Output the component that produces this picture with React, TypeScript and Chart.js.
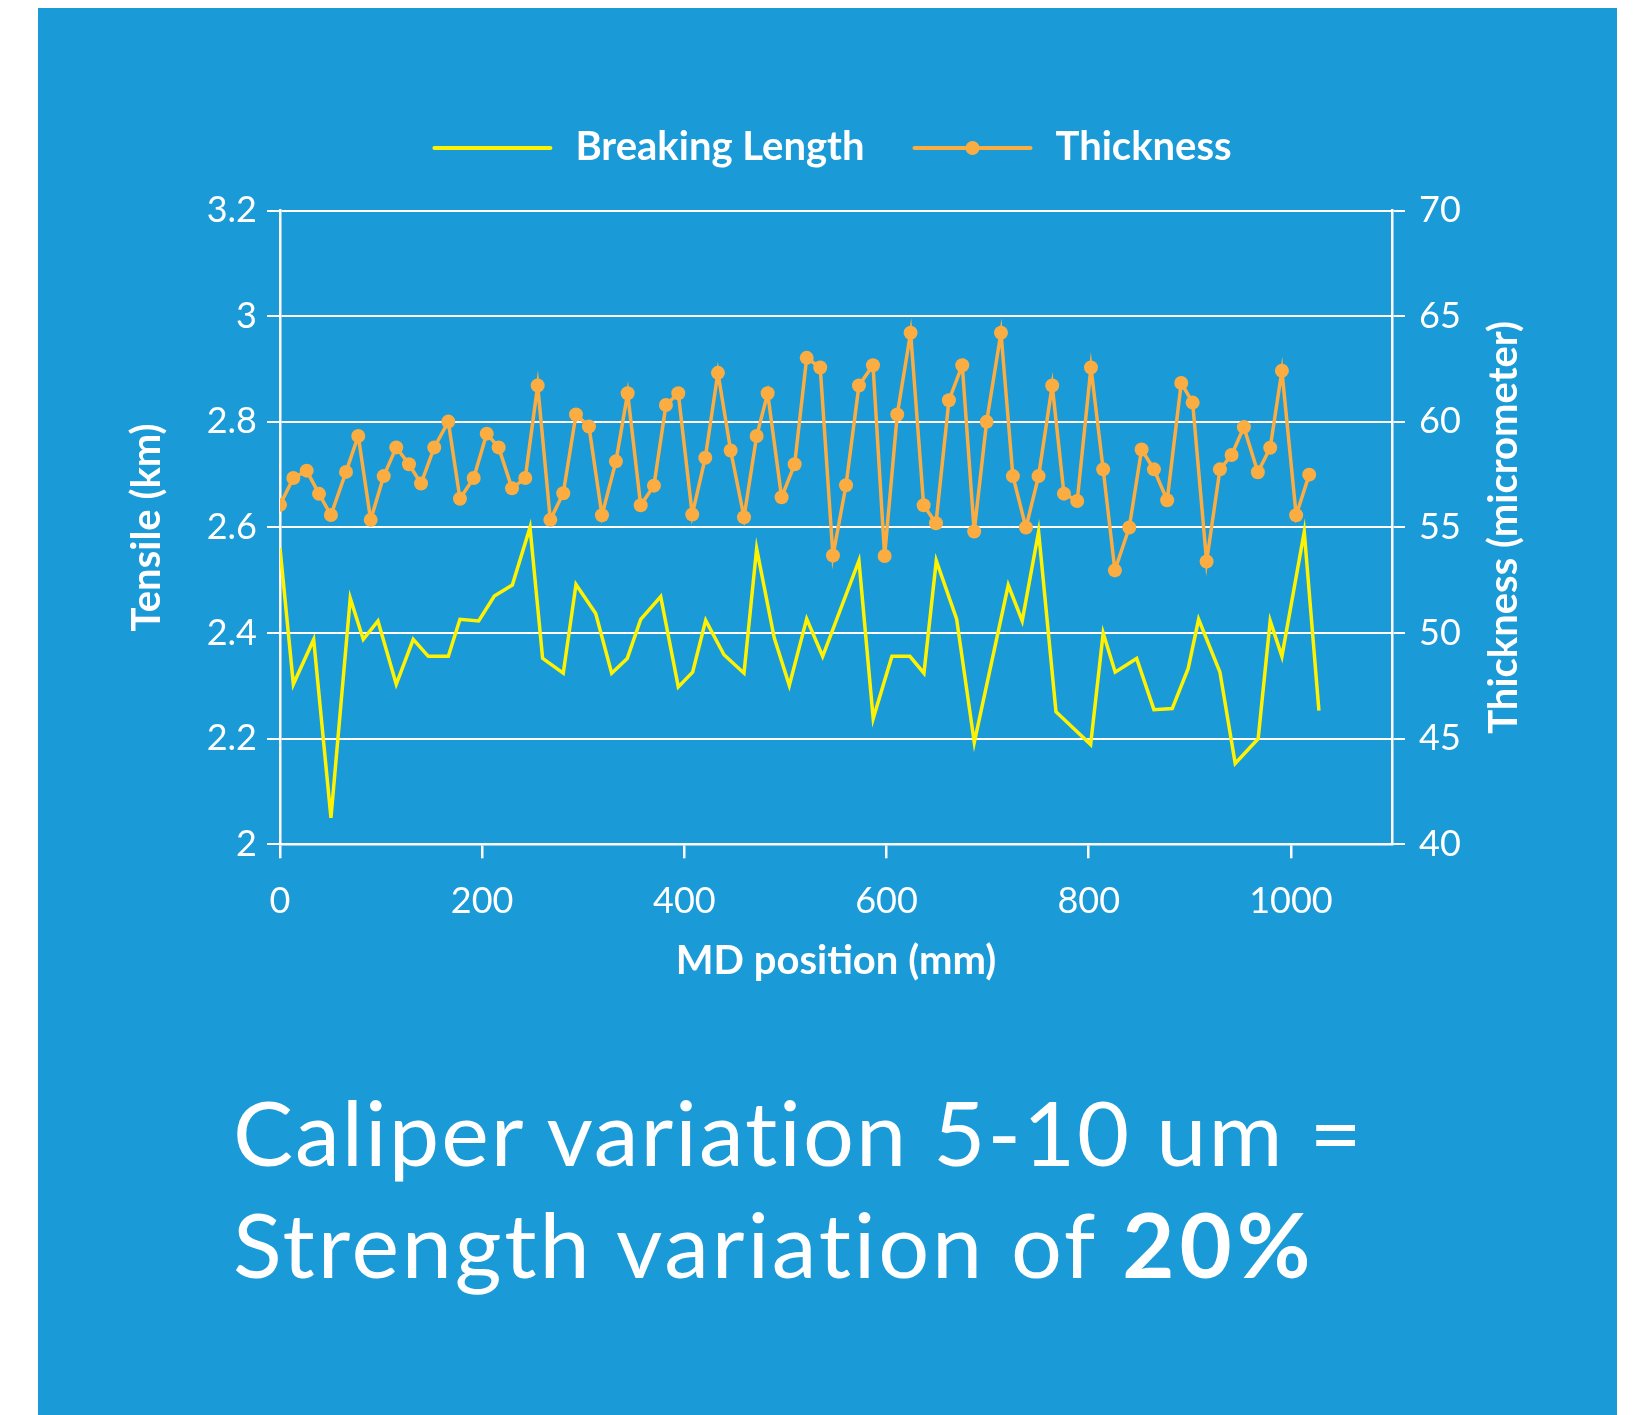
import React, { useEffect, useRef } from "react";
import { Chart, registerables } from "chart.js";

Chart.register(...registerables);

// ---------- data ----------
const breakingX = [
  0, 13.2, 33.3, 50.4, 69.5, 82.4, 96.9, 115.0, 131.8, 146.7,
  166.5, 178.0, 196.5, 212.0, 229.8, 247.3, 259.8, 280.2, 292.8, 312.3,
  328.1, 343.5, 356.8, 376.6, 394.0, 408.2, 421.1, 439.2, 459.0, 471.5,
  488.9, 503.8, 521.0, 536.8, 572.7, 586.8, 605.3, 623.1, 637.0, 649.2,
  669.3, 686.8, 720.4, 734.2, 750.4, 767.6, 801.9, 814.3, 826.2, 847.4,
  864.5, 882.6, 898.4, 908.7, 929.8, 944.9, 967.6, 979.5, 991.1, 1013.2,
  1027.7,
];
const breakingLength = [
  2.561, 2.303, 2.388, 2.050, 2.466, 2.388, 2.423, 2.303, 2.388, 2.356,
  2.356, 2.426, 2.423, 2.470, 2.491, 2.600, 2.352, 2.324, 2.492, 2.437,
  2.324, 2.352, 2.426, 2.469, 2.298, 2.326, 2.424, 2.359, 2.324, 2.560,
  2.391, 2.301, 2.427, 2.356, 2.537, 2.238, 2.356, 2.356, 2.324, 2.537,
  2.427, 2.193, 2.491, 2.423, 2.592, 2.251, 2.189, 2.400, 2.326, 2.352,
  2.255, 2.257, 2.333, 2.426, 2.326, 2.153, 2.200, 2.423, 2.356, 2.592,
  2.253,
];
const thicknessX = [
  0, 13.2, 26.4, 38.6, 50.4, 65.3, 77.4, 89.7, 102.6, 115.0,
  127.6, 139.5, 152.6, 166.5, 178.0, 191.6, 204.5, 216.3, 229.5, 242.6,
  254.9, 267.4, 280.2, 292.8, 305.6, 318.5, 332.3, 343.9, 356.8, 369.9,
  381.8, 394.0, 407.8, 420.7, 433.2, 445.8, 459.0, 471.5, 482.4, 496.2,
  509.1, 521.0, 534.4, 547.0, 559.9, 572.7, 586.6, 598.1, 610.6, 623.8,
  636.7, 648.9, 661.7, 674.9, 686.7, 699.0, 713.2, 725.0, 737.9, 750.4,
  763.9, 775.5, 788.6, 802.2, 814.3, 825.9, 840.1, 852.3, 864.5, 877.6,
  891.5, 902.8, 916.6, 929.8, 941.3, 953.5, 967.3, 979.5, 991.1, 1005.2,
  1018.1,
];
const thickness = [
  56.07, 57.34, 57.69, 56.59, 55.59, 57.63, 59.33, 55.36, 57.43, 58.79,
  57.99, 57.08, 58.79, 60.01, 56.36, 57.34, 59.44, 58.79, 56.85, 57.34,
  61.72, 55.36, 56.62, 60.35, 59.78, 55.58, 58.13, 61.35, 56.05, 56.98,
  60.8, 61.35, 55.61, 58.3, 62.32, 58.64, 55.48, 59.33, 61.35, 56.43,
  57.99, 63.03, 62.57, 53.67, 57.0, 61.72, 62.68, 53.65, 60.35, 64.22,
  56.05, 55.2, 61.02, 62.68, 54.81, 60.0, 64.22, 57.43, 55.0, 57.43,
  61.72, 56.6, 56.25, 62.57, 57.75, 52.97, 55.0, 58.69, 57.75, 56.29,
  61.84, 60.91, 53.39, 57.75, 58.43, 59.75, 57.61, 58.77, 62.42, 55.58,
  57.5,
];
const seriesLabels = ["Breaking Length", "Thickness"];
const axisTitles = { x: "MD position (mm)", yLeft: "Tensile (km)", yRight: "Thickness (micrometer)" };
const headline1 = "Caliper variation 5-10 um =";
const headline2a = "Strength variation of ";
const headline2b = "20%";

// ---------- style ----------
const BLUE = "#1A9AD7";
const YELLOW = "#FFF200";
const ORANGE = "#FBAD42";
const WHITE = "#FFFFFF";
const FONT = "Lato, 'Open Sans', sans-serif";
const TITLE_SIZE = 40;

const CANVAS_W = 1579;
const CANVAS_H = 1000;

const overlayPlugin = {
  id: "overlayPlugin",
  afterDraw(chart: any) {
    const ctx = chart.ctx as CanvasRenderingContext2D;
    const area = chart.chartArea;
    ctx.save();
    // legend
    ctx.font = `bold ${TITLE_SIZE}px ${FONT}`;
    const lineW = 116;
    const gapText = 25;
    const gapItem = 50;
    const ds = chart.data.datasets;
    const widths = ds.map((d: any) => ctx.measureText(d.label).width);
    let total = 0;
    ds.forEach((_d: any, k: number) => {
      total += lineW + gapText + widths[k];
    });
    total += gapItem * (ds.length - 1);
    let x = (area.left + area.right) / 2 - total / 2 - 3;
    const ly = 140;
    ds.forEach((d: any, k: number) => {
      ctx.strokeStyle = d.borderColor;
      ctx.lineWidth = 4;
      ctx.lineCap = "round";
      ctx.beginPath();
      ctx.moveTo(x, ly);
      ctx.lineTo(x + lineW, ly);
      ctx.stroke();
      if (d.pointRadius > 0) {
        ctx.fillStyle = d.pointBackgroundColor;
        ctx.beginPath();
        ctx.arc(x + lineW / 2, ly, 7, 0, Math.PI * 2);
        ctx.fill();
      }
      ctx.fillStyle = WHITE;
      ctx.textAlign = "left";
      ctx.textBaseline = "alphabetic";
      ctx.fillText(d.label, x + lineW + gapText, ly + 12);
      x += lineW + gapText + widths[k] + gapItem;
    });
    // right axis title, reading bottom to top
    ctx.font = `bold ${TITLE_SIZE}px ${FONT}`;
    ctx.translate(1479, (area.top + area.bottom) / 2);
    ctx.rotate(-Math.PI / 2);
    ctx.textAlign = "center";
    ctx.textBaseline = "alphabetic";
    ctx.fillStyle = WHITE;
    ctx.fillText(axisTitles.yRight, 0, 0);
    ctx.restore();
  },
};

function ChartView() {
  const ref = useRef<HTMLCanvasElement | null>(null);
  useEffect(() => {
    if (!ref.current) return;
    Chart.defaults.font.family = FONT;
    Chart.defaults.color = WHITE;
    const chart = new Chart(ref.current, {
      type: "line",
      data: {
        datasets: [
          {
            label: seriesLabels[0],
            data: breakingX.map((x, i) => ({ x, y: breakingLength[i] })),
            borderColor: YELLOW,
            backgroundColor: YELLOW,
            borderWidth: 3.5,
            pointRadius: 0,
            pointHoverRadius: 0,
            tension: 0,
            yAxisID: "y",
          },
          {
            label: seriesLabels[1],
            data: thicknessX.map((x, i) => ({ x, y: thickness[i] })),
            borderColor: ORANGE,
            backgroundColor: ORANGE,
            pointBackgroundColor: ORANGE,
            pointBorderColor: ORANGE,
            borderWidth: 3.5,
            pointRadius: 7,
            pointBorderWidth: 0,
            tension: 0,
            yAxisID: "y2",
          },
        ],
      },
      options: {
        animation: false,
        responsive: false,
        events: [],
        layout: { padding: { top: 202.6, left: 0, right: 0, bottom: 0 } },
        plugins: {
          legend: { display: false },
          tooltip: { enabled: false },
        },
        scales: {
          x: {
            type: "linear",
            min: 0,
            max: 1100,
            afterFit: (s: any) => {
              s.height = 163.7;
            },
            border: { display: true, color: WHITE, width: 2.5 },
            grid: { drawOnChartArea: false, color: WHITE, lineWidth: 2.5, tickLength: 14 },
            ticks: {
              stepSize: 200,
              includeBounds: false,
              color: WHITE,
              padding: 21,
              font: { size: 36, family: FONT },
              maxRotation: 0,
              callback: (v: any) => String(Math.round(Number(v))),
            },
            title: {
              display: true,
              text: axisTitles.x,
              color: WHITE,
              font: { size: TITLE_SIZE, weight: "bold", family: FONT },
              padding: { top: 0, bottom: 23 },
            },
          },
          y: {
            type: "linear",
            position: "left",
            min: 2,
            max: 3.2,
            afterFit: (s: any) => {
              s.width = 242;
            },
            border: { display: true, color: WHITE, width: 2.5 },
            grid: { color: WHITE, lineWidth: 2, tickLength: 13 },
            ticks: {
              stepSize: 0.2,
              color: WHITE,
              padding: 10,
              font: { size: 36, family: FONT },
              callback: (v: any) => String(Math.round(Number(v) * 10) / 10),
            },
            title: {
              display: true,
              text: axisTitles.yLeft,
              color: WHITE,
              font: { size: TITLE_SIZE, weight: "bold", family: FONT },
              padding: { top: 85, bottom: 0 },
            },
          },
          y2: {
            type: "linear",
            position: "right",
            min: 40,
            max: 70,
            afterFit: (s: any) => {
              s.width = 225;
            },
            border: { display: true, color: WHITE, width: 2.5 },
            grid: { drawOnChartArea: false, color: WHITE, lineWidth: 2, tickLength: 13 },
            ticks: {
              stepSize: 5,
              color: WHITE,
              padding: 14,
              font: { size: 36, family: FONT },
            },
            title: { display: false },
          },
        },
      },
      plugins: [overlayPlugin],
    } as any);
    return () => chart.destroy();
  }, []);
  return (
    <canvas
      ref={ref}
      width={CANVAS_W}
      height={CANVAS_H}
      style={{ display: "block", width: CANVAS_W, height: CANVAS_H, position: "absolute", left: 0, top: 0 }}
    />
  );
}

export default function App() {
  useEffect(() => {
    document.documentElement.style.overflow = "hidden";
  }, []);
  return (
    <div
      style={{
        marginLeft: 30,
        width: CANVAS_W,
        height: 1407,
        background: BLUE,
        position: "relative",
        overflow: "hidden",
      }}
    >
      <ChartView />
      <div
        style={{
          position: "absolute",
          left: 195,
          top: 1067,
          fontFamily: FONT,
          fontSize: 90,
          lineHeight: "112px",
          letterSpacing: "2px",
          fontVariantLigatures: "none",
          color: WHITE,
          whiteSpace: "nowrap",
        }}
      >
        {headline1}
        <br />
        <span style={{ letterSpacing: "2.8px" }}>{headline2a}</span>
        <b style={{ letterSpacing: "5px" }}>{headline2b}</b>
      </div>
    </div>
  );
}
